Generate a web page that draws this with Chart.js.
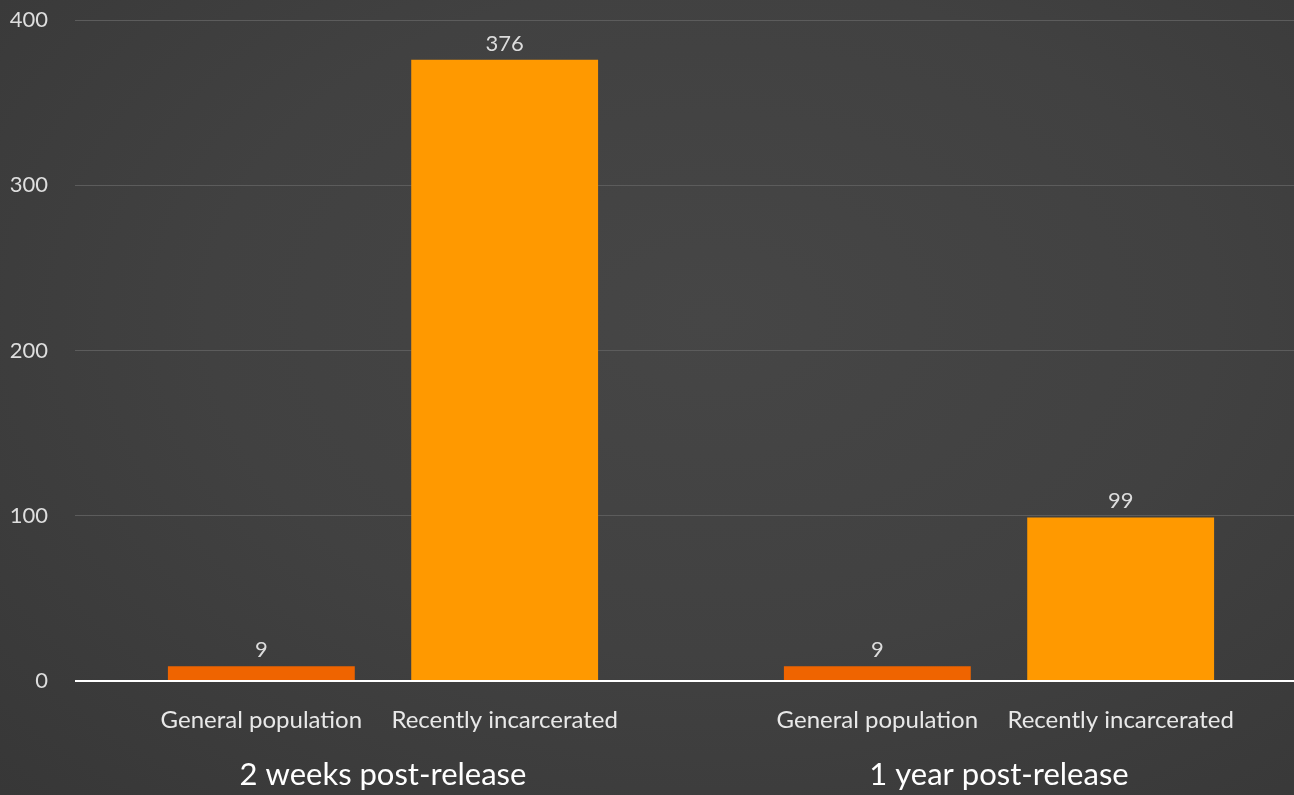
<!DOCTYPE html>
<html>
<head>
<meta charset="utf-8">
<script src="https://cdn.jsdelivr.net/npm/chart.js@4/dist/chart.umd.min.js"></script>
<style>
html,body{margin:0;padding:0;width:1294px;height:795px;overflow:hidden;position:relative;}
body{background:radial-gradient(ellipse at 55% 40%, #464646 0%, #414141 50%, #373737 100%);}
canvas{display:block;position:absolute;left:0;top:-20px;}
</style>
</head>
<body>
<canvas id="c" width="1307" height="815"></canvas>
<script>
const groups = ["2 weeks post-release", "1 year post-release"];
const seriesNames = ["General population", "Recently incarcerated"];
const generalPopulation = [9, 9];
const recentlyIncarcerated = [376, 99];
const yTicks = [0, 100, 200, 300, 400];

const FONT = "Lato, 'Open Sans', sans-serif";

const labelsPlugin = {
  id: 'labelsPlugin',
  afterDatasetsDraw(chart) {
    const ctx = chart.ctx;
    ctx.save();
    chart.data.datasets.forEach((ds, di) => {
      const meta = chart.getDatasetMeta(di);
      meta.data.forEach((el, i) => {
        ctx.fillStyle = '#dcdcdc';
        ctx.font = '22px ' + FONT;
        ctx.textAlign = 'center';
        ctx.textBaseline = 'alphabetic';
        ctx.fillText(String(ds.data[i]), el.x, el.y - 9);
        ctx.fillStyle = '#e8e8e8';
        ctx.font = '24px ' + FONT;
        ctx.fillText(ds.label, el.x, chart.chartArea.bottom + 47);
      });
    });
    ctx.restore();
  }
};

new Chart(document.getElementById('c'), {
  type: 'bar',
  data: {
    labels: groups,
    datasets: [
      { label: seriesNames[0], data: generalPopulation, backgroundColor: '#EF6400', borderWidth: 0 },
      { label: seriesNames[1], data: recentlyIncarcerated, backgroundColor: '#FF9900', borderWidth: 0 }
    ]
  },
  options: {
    responsive: false,
    animation: false,
    devicePixelRatio: 1,
    categoryPercentage: 0.79,
    barPercentage: 0.768,
    layout: { padding: { top: 0, right: 0, bottom: 0, left: 0 } },
    plugins: { legend: { display: false }, tooltip: { enabled: false } },
    scales: {
      x: {
        afterFit(scale) { scale.height = 114; },
        grid: { display: false, drawTicks: false },
        border: { display: false },
        ticks: { color: '#ffffff', font: { family: FONT, size: 31 }, padding: 75 }
      },
      y: {
        min: 0, max: 400,
        afterFit(scale) { scale.width = 75; },
        afterBuildTicks(scale) { scale.ticks = yTicks.map(v => ({ value: v })); },
        grid: {
          drawTicks: false,
          color: (c) => c.tick && c.tick.value === 0 ? '#ffffff' : '#5c5c5c',
          lineWidth: (c) => c.tick && c.tick.value === 0 ? 2 : 1
        },
        border: { display: false },
        ticks: { color: '#dedede', font: { family: FONT, size: 22 }, padding: 27 }
      }
    }
  },
  plugins: [labelsPlugin]
});
</script>
</body>
</html>
